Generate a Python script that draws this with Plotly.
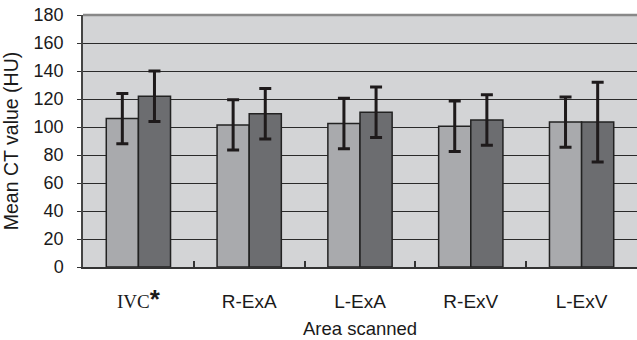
import plotly.graph_objects as go

categories = [
    "<span style='font-family:Liberation Serif'>IVC</span><span style='font-size:26px'><b>*</b></span>",
    "R-ExA", "L-ExA", "R-ExV", "L-ExV",
]
series1_values = [106, 101.5, 102.5, 100.5, 103.5]
series1_err = [18, 18, 18, 18, 18]
series2_values = [122, 109.5, 110.5, 105, 103.5]
series2_err = [18, 18, 18, 18, 28.5]
y_ticks = [0, 20, 40, 60, 80, 100, 120, 140, 160, 180]
x_title = "Area scanned"

font = "Liberation Sans, Arial, sans-serif"

fig = go.Figure()
fig.add_trace(go.Bar(
    x=categories, y=series1_values,
    marker=dict(color="#a9aaad", line=dict(color="#222222", width=1.5)),
    error_y=dict(type="data", array=series1_err, visible=True, color="#1e1a1b", thickness=3, width=6),
    showlegend=False,
))
fig.add_trace(go.Bar(
    x=categories, y=series2_values,
    marker=dict(color="#6c6d70", line=dict(color="#222222", width=1.5)),
    error_y=dict(type="data", array=series2_err, visible=True, color="#1e1a1b", thickness=3, width=6),
    showlegend=False,
))

fig.update_layout(
    width=637, height=340,
    margin=dict(l=83, r=0, t=15, b=73, autoexpand=False),
    paper_bgcolor="white",
    plot_bgcolor="#d3d4d6",
    barmode="group",
    bargap=0.42,
    bargroupgap=0,
    font=dict(family=font, color="#1a1a1a"),
    xaxis=dict(
        type="category",
        showline=True, linecolor="#333333", linewidth=2,
        ticks="inside", tickson="boundaries", ticklen=6, tickwidth=1.5, tickcolor="#333333",
        tickfont=dict(size=19),
        ticklabelstandoff=16,
        showgrid=False,
        mirror=False,
    ),
    yaxis=dict(
        range=[0, 180],
        tickvals=y_ticks,
        showgrid=True, gridcolor="#2a2a2a", gridwidth=1.3,
        showline=True, linecolor="#444444", linewidth=1.5,
        ticks="outside", ticklen=4, tickcolor="#333333",
        tickfont=dict(size=18),
        ticklabelstandoff=10,
        title=dict(text="Mean CT value (HU)", font=dict(size=19.5), standoff=14),
        zeroline=False,
    ),
)
fig.add_annotation(text=x_title, xref="paper", yref="paper", x=0.5, y=0,
                   xanchor="center", yanchor="middle", yshift=-61,
                   showarrow=False, font=dict(size=18.5, family=font, color="#1a1a1a"))
fig.add_shape(type="line", xref="paper", yref="paper", x0=0, x1=1, y0=1, y1=1,
              line=dict(color="#888888", width=2.5))

fig.write_html(
    "out.html",
    config={"displayModeBar": False},
    post_script="document.body.style.margin='0';document.body.style.overflow='hidden';",
)
